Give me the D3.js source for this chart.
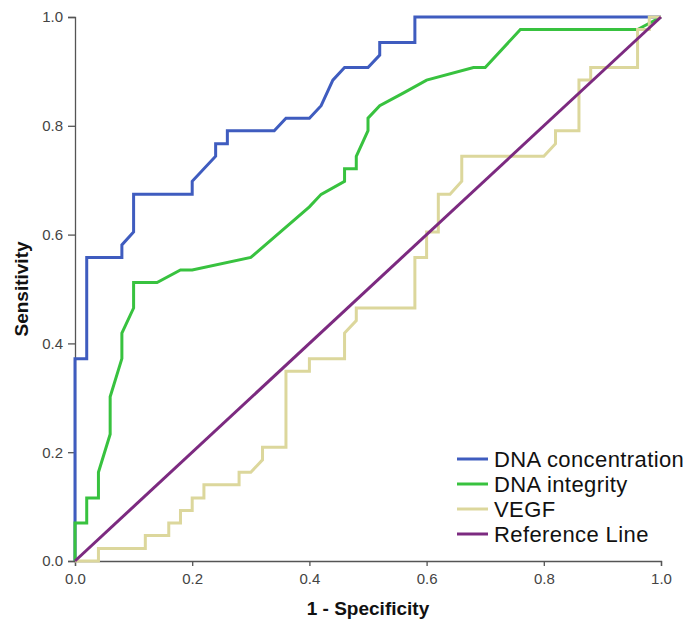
<!DOCTYPE html>
<html>
<head>
<meta charset="utf-8">
<script src="https://cdnjs.cloudflare.com/ajax/libs/d3/7.8.5/d3.min.js"></script>
<style>
  body { margin: 0; background: #fff; }
  #viz text { font-family: Arial, "Liberation Sans", sans-serif; }
</style>
</head>
<body>
<div id="viz"></div>
<script>
// ROC curves, points (x = 1 - specificity, y = sensitivity)
var dnaConcX = [0, 0, 0.02, 0.02, 0.08, 0.08, 0.10, 0.10, 0.20, 0.20, 0.24, 0.24, 0.26, 0.26, 0.34, 0.36, 0.40, 0.42, 0.44, 0.46, 0.50, 0.52, 0.52, 0.58, 0.58, 1.0];
var dnaConcY = [0, 0.372, 0.372, 0.558, 0.558, 0.581, 0.605, 0.674, 0.674, 0.698, 0.744, 0.767, 0.767, 0.791, 0.791, 0.814, 0.814, 0.837, 0.884, 0.907, 0.907, 0.930, 0.953, 0.953, 1.0, 1.0];

var dnaIntX = [0, 0, 0.02, 0.02, 0.04, 0.04, 0.06, 0.06, 0.08, 0.08, 0.10, 0.10, 0.14, 0.18, 0.20, 0.30, 0.40, 0.42, 0.46, 0.46, 0.48, 0.48, 0.50, 0.50, 0.52, 0.56, 0.60, 0.68, 0.70, 0.76, 0.96, 1.0];
var dnaIntY = [0, 0.070, 0.070, 0.116, 0.116, 0.163, 0.233, 0.302, 0.372, 0.419, 0.465, 0.512, 0.512, 0.535, 0.535, 0.558, 0.651, 0.674, 0.698, 0.721, 0.721, 0.744, 0.791, 0.814, 0.837, 0.860, 0.884, 0.907, 0.907, 0.977, 0.977, 1.0];

var vegfX = [0, 0.04, 0.04, 0.12, 0.12, 0.16, 0.16, 0.18, 0.18, 0.20, 0.20, 0.22, 0.22, 0.28, 0.28, 0.30, 0.32, 0.32, 0.36, 0.36, 0.40, 0.40, 0.46, 0.46, 0.48, 0.48, 0.58, 0.58, 0.60, 0.60, 0.62, 0.62, 0.64, 0.66, 0.66, 0.80, 0.82, 0.82, 0.86, 0.86, 0.88, 0.88, 0.96, 0.96, 0.98, 0.98, 1.0];
var vegfY = [0, 0, 0.023, 0.023, 0.047, 0.047, 0.070, 0.070, 0.093, 0.093, 0.116, 0.116, 0.140, 0.140, 0.163, 0.163, 0.186, 0.209, 0.209, 0.349, 0.349, 0.372, 0.372, 0.419, 0.442, 0.465, 0.465, 0.558, 0.558, 0.605, 0.605, 0.674, 0.674, 0.698, 0.744, 0.744, 0.767, 0.791, 0.791, 0.884, 0.884, 0.907, 0.907, 0.977, 0.977, 1.0, 1.0];

var refX = [0, 1];
var refY = [0, 1];

var seriesNames = ['DNA concentration', 'DNA integrity', 'VEGF', 'Reference Line'];
var seriesColors = ['#3f5cbf', '#38c23f', '#dcd79c', '#7c2a80'];
var tickValues = [0, 0.2, 0.4, 0.6, 0.8, 1.0];

var margin = {top: 17, right: 28, bottom: 58, left: 75};
var W = 689, H = 619;
var width = W - margin.left - margin.right;
var height = H - margin.top - margin.bottom;

var svg = d3.select('#viz').append('svg')
    .attr('width', W)
    .attr('height', H)
    .append('g')
    .attr('transform', 'translate(' + margin.left + ',' + margin.top + ')');

var x = d3.scaleLinear().domain([0, 1]).range([0, width]);
var y = d3.scaleLinear().domain([0, 1]).range([height, 0]);

var xAxis = svg.append('g')
    .attr('class', 'x-axis')
    .attr('transform', 'translate(0,' + height + ')')
    .call(d3.axisBottom(x).tickValues(tickValues).tickFormat(d3.format('.1f')).tickSizeOuter(0).tickSize(5).tickPadding(7));
var yAxis = svg.append('g')
    .attr('class', 'y-axis')
    .call(d3.axisLeft(y).tickValues(tickValues).tickFormat(d3.format('.1f')).tickSizeOuter(0).tickSize(7).tickPadding(5));

[xAxis, yAxis].forEach(function(a) {
    a.select('.domain').attr('stroke', '#555').attr('stroke-width', 1.3);
    a.selectAll('.tick line').attr('stroke', '#555').attr('stroke-width', 1.3);
    a.selectAll('.tick text').attr('fill', '#444').style('font-size', '15px');
});

var valueline = d3.line()
    .x(function(d) { return x(d[0]); })
    .y(function(d) { return y(d[1]); });

function zip(xs, ys) {
    return xs.map(function(v, i) { return [v, ys[i]]; });
}

var series = [zip(dnaConcX, dnaConcY), zip(dnaIntX, dnaIntY), zip(vegfX, vegfY), zip(refX, refY)];

var g = svg.append('g').attr('id', 'roc-lines');
series.forEach(function(s, i) {
    g.append('path')
        .attr('d', valueline(s))
        .attr('fill', 'none')
        .attr('stroke', seriesColors[i])
        .attr('stroke-width', 3)
        .attr('stroke-linejoin', 'miter');
});

// axis titles
svg.append('text')
    .attr('x', width / 2)
    .attr('y', height + 54)
    .attr('text-anchor', 'middle')
    .style('font-size', '19px')
    .style('font-weight', 'bold')
    .attr('fill', '#111')
    .text('1 - Specificity');

svg.append('text')
    .attr('transform', 'translate(' + (28 - margin.left) + ',' + (height / 2) + ') rotate(-90)')
    .attr('text-anchor', 'middle')
    .style('font-size', '19px')
    .style('font-weight', 'bold')
    .attr('fill', '#111')
    .text('Sensitivity');

// legend
var l = svg.append('g').attr('id', 'roc-legend');
seriesNames.forEach(function(name, i) {
    var ly = 442 + i * 25;
    l.append('line')
        .attr('x1', 382).attr('x2', 413)
        .attr('y1', ly).attr('y2', ly)
        .attr('stroke', seriesColors[i])
        .attr('stroke-width', 3);
    l.append('text')
        .attr('x', 419)
        .attr('y', ly + 8)
        .style('font-size', '22px')
        .style('letter-spacing', '0.4px')
        .attr('fill', '#111')
        .text(name);
});
</script>
</body>
</html>
